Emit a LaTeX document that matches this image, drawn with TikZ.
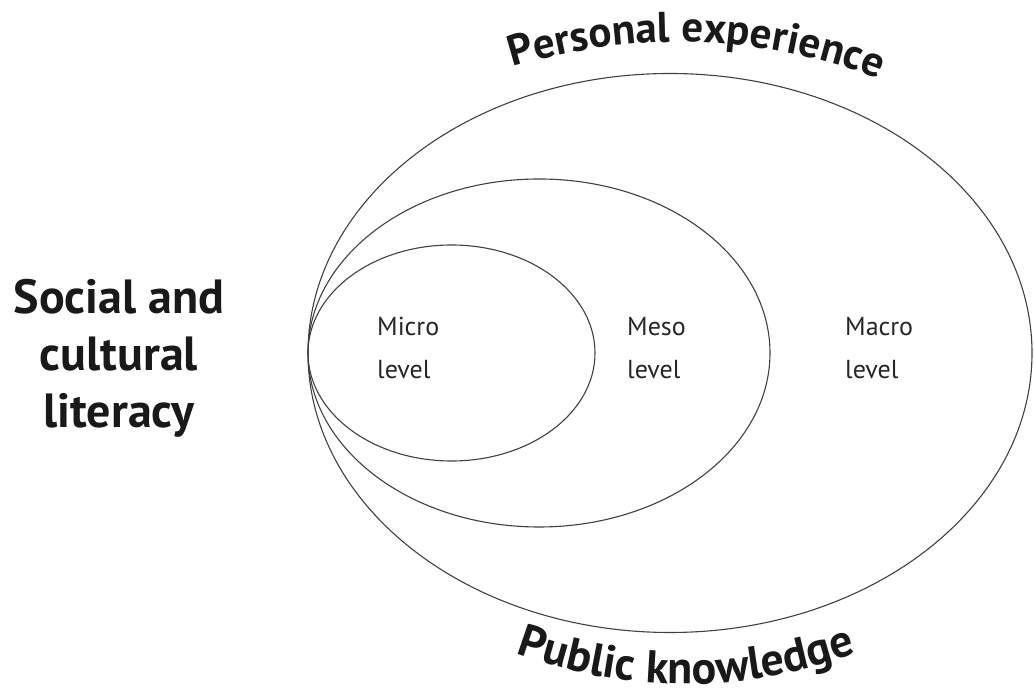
\documentclass[tikz,border=0pt]{standalone}
\usepackage{fontspec}
\setmainfont{PT Sans}
\usetikzlibrary{decorations.text}
\tikzset{
  ring/.style={draw=black!75, line width=1.1pt},
  levellabel/.style={anchor=north west, align=left, inner sep=0pt, font=\fontsize{26}{43}\selectfont, text=black!85},
  biglabel/.style={align=center, inner sep=0pt, font=\bfseries\fontsize{48}{57}\selectfont, text=black!90},
}
\begin{document}
\begin{tikzpicture}[x=1pt,y=1pt]
\useasboundingbox (0,0) rectangle (1034,693);
% ellipses (shared leftmost point)
\draw[ring] (670,340) ellipse [x radius=362, y radius=279.5];
\draw[ring] (539,340) ellipse [x radius=231, y radius=174];
\draw[ring] (451.5,340) ellipse [x radius=143.5, y radius=108];
% level labels
\node[levellabel] (micro) at (377,376) {Micro\\level};
\node[levellabel] (meso) at (627,376) {Meso\\level};
\node[levellabel] (macro) at (845,376) {Macro\\level};
% left label
\node[biglabel] (social) at (119,335) {Social and\\cultural\\literacy};
% curved labels
\path[decorate, decoration={text along path, text align=center,
  text={|\bfseries\fontsize{43}{48}\selectfont\color{black!90}|Personal experience}}]
  (679,88) ++(118.2:563) arc[start angle=118.2, end angle=58.2, radius=563];
\path[decorate, decoration={text along path, text align=center,
  text={|\bfseries\fontsize{46}{50}\selectfont\color{black!90}|Public knowledge}}]
  (686,496) ++(235:487) arc[start angle=235, end angle=305, radius=487];
\end{tikzpicture}
\end{document}
